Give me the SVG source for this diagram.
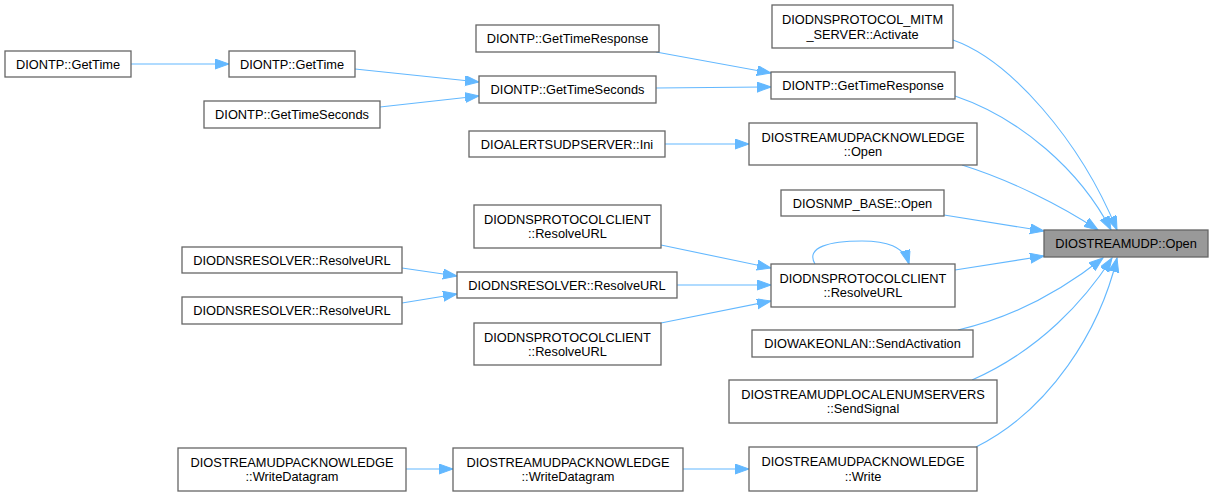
<svg xmlns="http://www.w3.org/2000/svg" width="1213" height="496" viewBox="0 0 1213 496">
<style>
.n rect{fill:#fff;stroke:#666;stroke-width:1.3}
.m rect{fill:#999;stroke:#666;stroke-width:1.3}
text{font-family:"Liberation Sans",Arial,sans-serif;font-size:12.8px;fill:#000;text-anchor:middle}
.e path{fill:none;stroke:#63b8ff;stroke-width:1.1;marker-end:url(#ah)}
</style>
<defs>
<marker id="ah" markerUnits="userSpaceOnUse" markerWidth="15" markerHeight="11" refX="14" refY="5" orient="auto" viewBox="0 0 15 11">
<path d="M0,0 L14,5 L0,10 z" fill="#63b8ff" stroke="#63b8ff" stroke-width="1"/>
</marker>
</defs>
<rect width="1213" height="496" fill="#fff"/>
<g id="edges" class="e">
<path d="M131,64 L229,64"/>
<path d="M355,69 L479,82"/>
<path d="M380,107 L479,96"/>
<path d="M656,52 L771,73"/>
<path d="M656,88 L771,87"/>
<path d="M665,144 L749,144"/>
<path d="M402,268 L457,276"/>
<path d="M402,303 L457,294"/>
<path d="M661,245 L771,268"/>
<path d="M677,285 L771,285"/>
<path d="M661,323 L771,301"/>
<path d="M406,469 L453,469"/>
<path d="M683,469 L749,469"/>
<path d="M815,264 C805,247 830,241 862,241 C886,241 904,246 909,264"/>
<path d="M953,40 C1010,60 1080,140 1117,230"/>
<path d="M955,96 C1020,118 1080,170 1111,230"/>
<path d="M962,165 C1010,180 1060,205 1098,230"/>
<path d="M944,215 L1044,231"/>
<path d="M955,270 L1044,256"/>
<path d="M958,330 C1010,318 1060,292 1103,258"/>
<path d="M972,380 C1040,350 1085,300 1112,258"/>
<path d="M976,447 C1050,410 1100,330 1117,258"/>
</g>
<g id="main" class="m"><rect x="1044" y="230" width="164" height="27"/><text x="1126" y="248">DIOSTREAMUDP::Open</text></g>
<g id="activate" class="n"><rect x="772" y="5" width="181" height="43"/><text x="862.5" y="24">DIODNSPROTOCOL_MITM</text><text x="862.5" y="38.5">_SERVER::Activate</text></g>
<g id="gtr_r" class="n"><rect x="771" y="72" width="184" height="27"/><text x="863" y="90">DIONTP::GetTimeResponse</text></g>
<g id="sack_open" class="n"><rect x="749" y="123" width="228" height="42"/><text x="863" y="141.5">DIOSTREAMUDPACKNOWLEDGE</text><text x="863" y="156">::Open</text></g>
<g id="snmp" class="n"><rect x="781" y="190" width="163" height="26"/><text x="862.5" y="207.5">DIOSNMP_BASE::Open</text></g>
<g id="dpc_r" class="n"><rect x="771" y="264" width="184" height="43"/><text x="863" y="282.5">DIODNSPROTOCOLCLIENT</text><text x="863" y="297">::ResolveURL</text></g>
<g id="wol" class="n"><rect x="752" y="330" width="221" height="27"/><text x="862.5" y="348">DIOWAKEONLAN::SendActivation</text></g>
<g id="enum" class="n"><rect x="729" y="380" width="268" height="43"/><text x="863" y="398.5">DIOSTREAMUDPLOCALENUMSERVERS</text><text x="863" y="413">::SendSignal</text></g>
<g id="write" class="n"><rect x="749" y="447" width="228" height="44"/><text x="863" y="466">DIOSTREAMUDPACKNOWLEDGE</text><text x="863" y="480.5">::Write</text></g>
<g id="gtr_l" class="n"><rect x="476" y="25" width="183" height="27"/><text x="567.5" y="43">DIONTP::GetTimeResponse</text></g>
<g id="gts_m" class="n"><rect x="479" y="76" width="177" height="27"/><text x="567.5" y="94">DIONTP::GetTimeSeconds</text></g>
<g id="ini" class="n"><rect x="469" y="131" width="196" height="26"/><text x="567" y="148.5">DIOALERTSUDPSERVER::Ini</text></g>
<g id="dpc_u" class="n"><rect x="474" y="205" width="187" height="43"/><text x="567.5" y="223.5">DIODNSPROTOCOLCLIENT</text><text x="567.5" y="238">::ResolveURL</text></g>
<g id="dres_m" class="n"><rect x="457" y="272" width="220" height="26"/><text x="567" y="289.5">DIODNSRESOLVER::ResolveURL</text></g>
<g id="dpc_l" class="n"><rect x="474" y="323" width="187" height="42"/><text x="567.5" y="341.5">DIODNSPROTOCOLCLIENT</text><text x="567.5" y="356">::ResolveURL</text></g>
<g id="wd_m" class="n"><rect x="453" y="448" width="230" height="43"/><text x="568" y="466.5">DIOSTREAMUDPACKNOWLEDGE</text><text x="568" y="481">::WriteDatagram</text></g>
<g id="gt_m" class="n"><rect x="229" y="51" width="126" height="26"/><text x="292" y="68.5">DIONTP::GetTime</text></g>
<g id="gts_l" class="n"><rect x="204" y="101" width="176" height="27"/><text x="292" y="119">DIONTP::GetTimeSeconds</text></g>
<g id="dres_u" class="n"><rect x="182" y="247" width="220" height="26"/><text x="292" y="264.5">DIODNSRESOLVER::ResolveURL</text></g>
<g id="dres_l" class="n"><rect x="182" y="297" width="220" height="27"/><text x="292" y="315">DIODNSRESOLVER::ResolveURL</text></g>
<g id="wd_l" class="n"><rect x="178" y="448" width="228" height="43"/><text x="292" y="466.5">DIOSTREAMUDPACKNOWLEDGE</text><text x="292" y="481">::WriteDatagram</text></g>
<g id="gt_l" class="n"><rect x="5" y="51" width="126" height="26"/><text x="68" y="68.5">DIONTP::GetTime</text></g>
</svg>
